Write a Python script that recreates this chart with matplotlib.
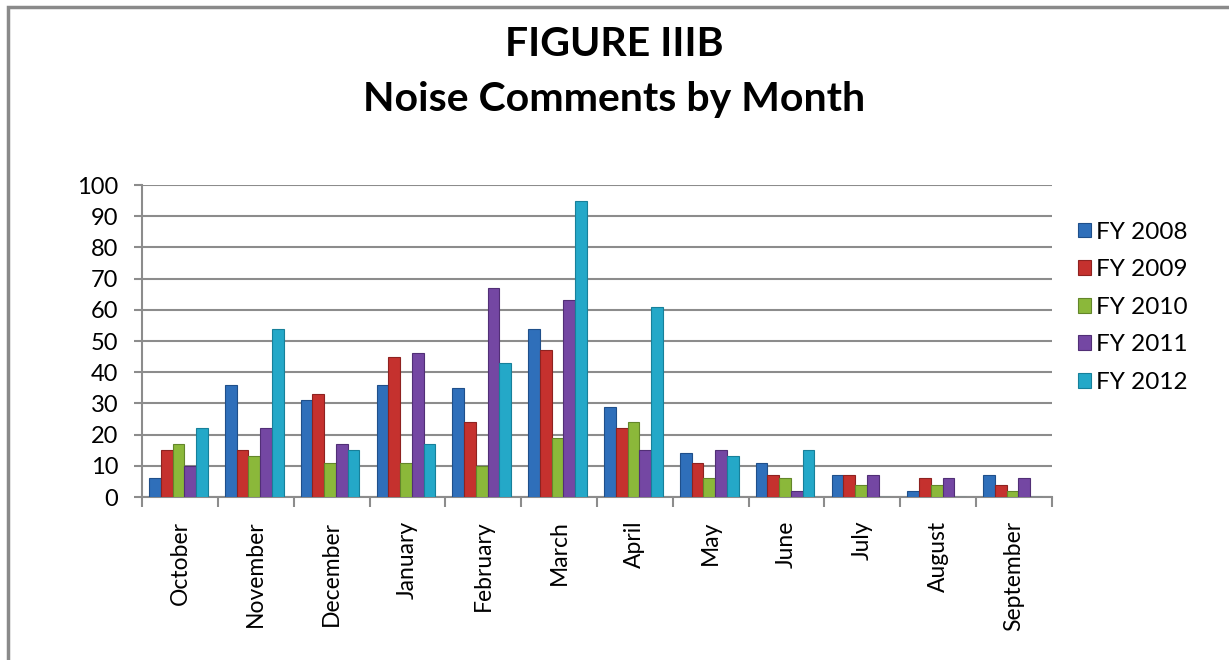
import matplotlib.pyplot as plt
import numpy as np
from matplotlib.patches import Rectangle

# data
months = ["October", "November", "December", "January", "February", "March",
          "April", "May", "June", "July", "August", "September"]
fy2008 = [6, 36, 31, 36, 35, 54, 29, 14, 11, 7, 2, 7]
fy2009 = [15, 15, 33, 45, 24, 47, 22, 11, 7, 7, 6, 4]
fy2010 = [17, 13, 11, 11, 10, 19, 24, 6, 6, 4, 4, 2]
fy2011 = [10, 22, 17, 46, 67, 63, 15, 15, 2, 7, 6, 6]
fy2012 = [22, 54, 15, 17, 43, 95, 61, 13, 15, 0, 0, 0]

series_names = ["FY 2008", "FY 2009", "FY 2010", "FY 2011", "FY 2012"]
series = [fy2008, fy2009, fy2010, fy2011, fy2012]
colors = ["#2f6fba", "#c5312e", "#8bb83a", "#7447a3", "#24a8c8"]
edges = ["#1f4f8a", "#8e2220", "#63862a", "#512f76", "#17809a"]

plt.rcParams['font.family'] = ['Lato', 'DejaVu Sans']

fig = plt.figure(figsize=(12.29, 6.6), dpi=100)

# chart border (only top and left visible in the crop)
fig.patches.append(Rectangle((8 / 1229, -0.1), 1.2, 1 - 7 / 660 + 0.1,
                             transform=fig.transFigure, fill=False,
                             edgecolor="#8a8a8a", linewidth=2.5))

fig.text(0.5, 1 - 44 / 660, "FIGURE IIIB", ha="center", va="center",
         fontsize=29.5, fontweight="bold")
fig.text(0.5, 1 - 100 / 660, "Noise Comments by Month", ha="center", va="center",
         fontsize=29.5, fontweight="bold")

ax = fig.add_axes([142 / 1229, 1 - 497 / 660, 910 / 1229, 312 / 660])

x = np.arange(len(months))
w = 0.155
for i, (name, vals) in enumerate(zip(series_names, series)):
    ax.bar(x + (i - 2) * w - 0.02, vals, w, color=colors[i], edgecolor=edges[i],
           linewidth=0.8, label=name, zorder=3)

ax.set_xlim(-0.5, len(months) - 0.5)
ax.set_ylim(0, 100)
ax.set_yticks(range(0, 101, 10))
ax.yaxis.grid(True, color="#8c8c8c", linewidth=1.5, zorder=0)
ax.set_axisbelow(True)

for s in ["top", "right"]:
    ax.spines[s].set_visible(False)
for s in ["left", "bottom"]:
    ax.spines[s].set_color("#8c8c8c")
    ax.spines[s].set_linewidth(1.5)

# tick marks between categories, labels at centres
ax.set_xticks(np.arange(-0.5, len(months), 1.0))
ax.set_xticklabels([])
ax.set_xticks(x, minor=True)
ax.set_xticklabels(months, minor=True, rotation=90, fontsize=16.5, va="top")
ax.tick_params(axis="x", which="major", length=7, width=1.5, color="#8c8c8c")
ax.tick_params(axis="x", which="minor", length=0, pad=17)
ax.tick_params(axis="y", length=6, width=1.5, color="#8c8c8c", labelsize=17, pad=11)

fig.legend(loc="upper left", bbox_to_anchor=(1068 / 1229, 1 - 212 / 660),
           frameon=False, fontsize=17.5, handlelength=0.55, handleheight=0.55,
           handletextpad=0.2, labelspacing=0.68, borderaxespad=0)

plt.savefig("out.png", dpi=100)
